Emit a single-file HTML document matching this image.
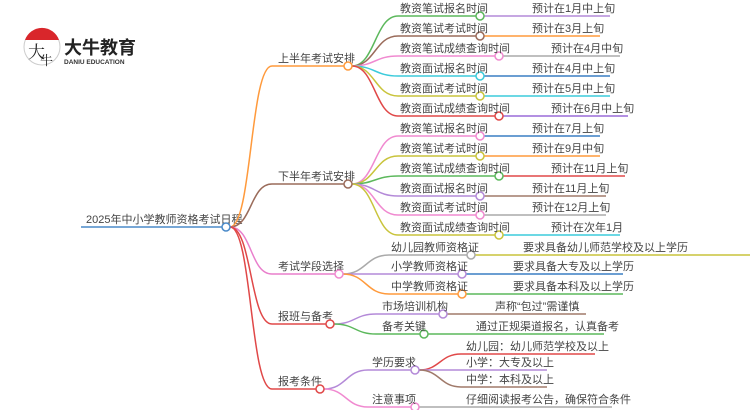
<!DOCTYPE html>
<html><head><meta charset="utf-8"><style>
body{margin:0;background:#fff;width:750px;height:410px;overflow:hidden}
svg text{font-family:"Liberation Sans","Noto Sans CJK SC",sans-serif;font-size:11px;fill:#444}
</style></head><body>
<svg width="750" height="410" viewBox="0 0 750 410" xmlns="http://www.w3.org/2000/svg" fill="none" stroke-width="1.5">
<!-- logo -->
<circle cx="42" cy="47" r="18" fill="#fff" stroke="#ccc" stroke-width="1"/>
<path d="M25 40 A18 18 0 0 1 59 40 Z" fill="#d9262b" stroke="none"/>
<text x="28" y="58" style="font-size:17px;fill:#222;font-family:'Noto Serif CJK SC',serif">大</text>
<text x="40" y="65" style="font-size:13px;fill:#222;font-family:'Noto Serif CJK SC',serif">牛</text>
<text x="64" y="54" style="font-size:18px;font-weight:bold;fill:#222">大牛教育</text>
<text x="64" y="64" style="font-size:6.5px;font-weight:bold;fill:#333">DANIU EDUCATION</text>

<!-- root -->
<path d="M81 227 L222 227" stroke="#4a8ac9"/>
<text x="86" y="223">2025年中小学教师资格考试日程</text>

<!-- level1 connectors -->
<path d="M230 227 C252 227 250 66 272 66 L344 66" stroke="#ff9a3c"/>
<path d="M230 227 C252 227 250 184 272 184 L344 184" stroke="#9a6b5a"/>
<path d="M230 227 C252 227 250 274 272 274 L335 274" stroke="#e97fcc"/>
<path d="M230 227 C252 227 250 324 272 324 L326 324" stroke="#e04848"/>
<path d="M230 227 C252 227 250 389 272 389 L316 389" stroke="#e04848"/>
<circle cx="226" cy="227" r="4" fill="#fff" stroke="#4a8ac9"/>
<text x="278" y="62">上半年考试安排</text>
<text x="278" y="180">下半年考试安排</text>
<text x="278" y="270">考试学段选择</text>
<text x="278" y="320">报班与备考</text>
<text x="278" y="385">报考条件</text>

<!-- 上半年 -->
<g>
<path d="M352 66 C375 66 375 16 398 16 L476 16" stroke="#5cb85c"/>
<path d="M484 16 L610 16" stroke="#b48ad8"/>
<path d="M352 66 C375 66 375 36 398 36 L476 36" stroke="#9a6b5a"/>
<path d="M484 36 L600 36" stroke="#ff9a3c"/>
<path d="M352 66 C375 66 375 56 398 56 L495 56" stroke="#f08ad0"/>
<path d="M503 56 L620 56" stroke="#aaa"/>
<path d="M352 66 C375 66 375 76 398 76 L476 76" stroke="#3ccbdb"/>
<path d="M484 76 L610 76" stroke="#3a7fc4"/>
<path d="M352 66 C375 66 375 96 398 96 L476 96" stroke="#c9c43c"/>
<path d="M484 96 L610 96" stroke="#3ccbdb"/>
<path d="M352 66 C375 66 375 116 398 116 L495 116" stroke="#e04848"/>
<path d="M503 116 L628 116" stroke="#9a6bd8"/>
<circle cx="480" cy="16" r="4" fill="#fff" stroke="#5cb85c"/>
<circle cx="480" cy="36" r="4" fill="#fff" stroke="#9a6b5a"/>
<circle cx="499" cy="56" r="4" fill="#fff" stroke="#f08ad0"/>
<circle cx="480" cy="76" r="4" fill="#fff" stroke="#3ccbdb"/>
<circle cx="480" cy="96" r="4" fill="#fff" stroke="#c9c43c"/>
<circle cx="499" cy="116" r="4" fill="#fff" stroke="#e04848"/>
<text x="400" y="12">教资笔试报名时间</text><text x="532" y="12">预计在1月中上旬</text>
<text x="400" y="32">教资笔试考试时间</text><text x="532" y="32">预计在3月上旬</text>
<text x="400" y="52">教资笔试成绩查询时间</text><text x="551" y="52">预计在4月中旬</text>
<text x="400" y="72">教资面试报名时间</text><text x="532" y="72">预计在4月中上旬</text>
<text x="400" y="92">教资面试考试时间</text><text x="532" y="92">预计在5月中上旬</text>
<text x="400" y="112">教资面试成绩查询时间</text><text x="551" y="112">预计在6月中上旬</text>
</g>
<circle cx="348" cy="66" r="4" fill="#fff" stroke="#ff9a3c"/>

<!-- 下半年 -->
<g>
<path d="M352 184 C375 184 375 136 398 136 L476 136" stroke="#f08ad0"/>
<path d="M484 136 L600 136" stroke="#3a7fc4"/>
<path d="M352 184 C375 184 375 156 398 156 L476 156" stroke="#c9c43c"/>
<path d="M484 156 L600 156" stroke="#ff9a3c"/>
<path d="M352 184 C375 184 375 176 398 176 L495 176" stroke="#5cb85c"/>
<path d="M503 176 L625 176" stroke="#e04848"/>
<path d="M352 184 C375 184 375 196 398 196 L476 196" stroke="#b48ad8"/>
<path d="M484 196 L606 196" stroke="#a07a6a"/>
<path d="M352 184 C375 184 375 215 398 215 L476 215" stroke="#f08ad0"/>
<path d="M484 215 L606 215" stroke="#aaa"/>
<path d="M352 184 C375 184 375 235 398 235 L495 235" stroke="#c9c43c"/>
<path d="M503 235 L620 235" stroke="#3ccbdb"/>
<circle cx="480" cy="136" r="4" fill="#fff" stroke="#f08ad0"/>
<circle cx="480" cy="156" r="4" fill="#fff" stroke="#c9c43c"/>
<circle cx="499" cy="176" r="4" fill="#fff" stroke="#5cb85c"/>
<circle cx="480" cy="196" r="4" fill="#fff" stroke="#b48ad8"/>
<circle cx="480" cy="215" r="4" fill="#fff" stroke="#f08ad0"/>
<circle cx="499" cy="235" r="4" fill="#fff" stroke="#c9c43c"/>
<text x="400" y="132">教资笔试报名时间</text><text x="532" y="132">预计在7月上旬</text>
<text x="400" y="152">教资笔试考试时间</text><text x="532" y="152">预计在9月中旬</text>
<text x="400" y="172">教资笔试成绩查询时间</text><text x="551" y="172">预计在11月上旬</text>
<text x="400" y="192">教资面试报名时间</text><text x="532" y="192">预计在11月上旬</text>
<text x="400" y="211">教资面试考试时间</text><text x="532" y="211">预计在12月上旬</text>
<text x="400" y="231">教资面试成绩查询时间</text><text x="551" y="231">预计在次年1月</text>
</g>
<circle cx="348" cy="184" r="4" fill="#fff" stroke="#9a6b5a"/>

<!-- 考试学段选择 -->
<path d="M343 274 C366 274 366 255 389 255 L467 255" stroke="#aaa"/>
<path d="M475 255 L750 255" stroke="#c9c43c"/>
<path d="M343 274 C366 274 366 274 389 274 L458 274" stroke="#b48ad8"/>
<path d="M466 274 L623 274" stroke="#3a7fc4"/>
<path d="M343 274 C366 274 366 294 389 294 L458 294" stroke="#ff9a3c"/>
<path d="M466 294 L623 294" stroke="#5cb85c"/>
<circle cx="471" cy="255" r="4" fill="#fff" stroke="#aaa"/>
<circle cx="462" cy="274" r="4" fill="#fff" stroke="#b48ad8"/>
<circle cx="462" cy="294" r="4" fill="#fff" stroke="#ff9a3c"/>
<circle cx="339" cy="274" r="4" fill="#fff" stroke="#f08ad0"/>
<text x="391" y="251">幼儿园教师资格证</text><text x="523" y="251">要求具备幼儿师范学校及以上学历</text>
<text x="391" y="270">小学教师资格证</text><text x="513" y="270">要求具备大专及以上学历</text>
<text x="391" y="290">中学教师资格证</text><text x="513" y="290">要求具备本科及以上学历</text>

<!-- 报班与备考 -->
<path d="M334 324 C355 324 355 314 376 314 L439 314" stroke="#b48ad8"/>
<path d="M447 314 L586 314" stroke="#a07a6a"/>
<path d="M334 324 C355 324 355 334 376 334 L420 334" stroke="#5cb85c"/>
<path d="M428 334 L604 334" stroke="#5cb85c"/>
<circle cx="443" cy="314" r="4" fill="#fff" stroke="#b48ad8"/>
<circle cx="424" cy="334" r="4" fill="#fff" stroke="#5cb85c"/>
<circle cx="330" cy="324" r="4" fill="#fff" stroke="#e04848"/>
<text x="382" y="310">市场培训机构</text><text x="495" y="310">声称“包过”需谨慎</text>
<text x="382" y="330">备考关键</text><text x="476" y="330">通过正规渠道报名，认真备考</text>

<!-- 报考条件 -->
<path d="M324 389 C346 389 346 370 368 370 L411 370" stroke="#b48ad8"/>
<path d="M324 389 C346 389 346 407 368 407 L411 407" stroke="#f08ad0"/>
<path d="M419 407 L612 407" stroke="#aaa"/>
<path d="M419 370 C440 370 440 354 461 354 L595 354" stroke="#e04848"/>
<path d="M419 370 L547 370" stroke="#b48ad8"/>
<path d="M419 370 C440 370 440 387 461 387 L547 387" stroke="#a07a6a"/>
<circle cx="415" cy="370" r="4" fill="#fff" stroke="#b48ad8"/>
<circle cx="415" cy="407" r="4" fill="#fff" stroke="#f08ad0"/>
<circle cx="320" cy="389" r="4" fill="#fff" stroke="#e04848"/>
<text x="372" y="366">学历要求</text>
<text x="372" y="403">注意事项</text>
<text x="466" y="350">幼儿园：幼儿师范学校及以上</text>
<text x="466" y="366">小学：大专及以上</text>
<text x="466" y="383">中学：本科及以上</text>
<text x="466" y="403">仔细阅读报考公告，确保符合条件</text>
</svg>
</body></html>
